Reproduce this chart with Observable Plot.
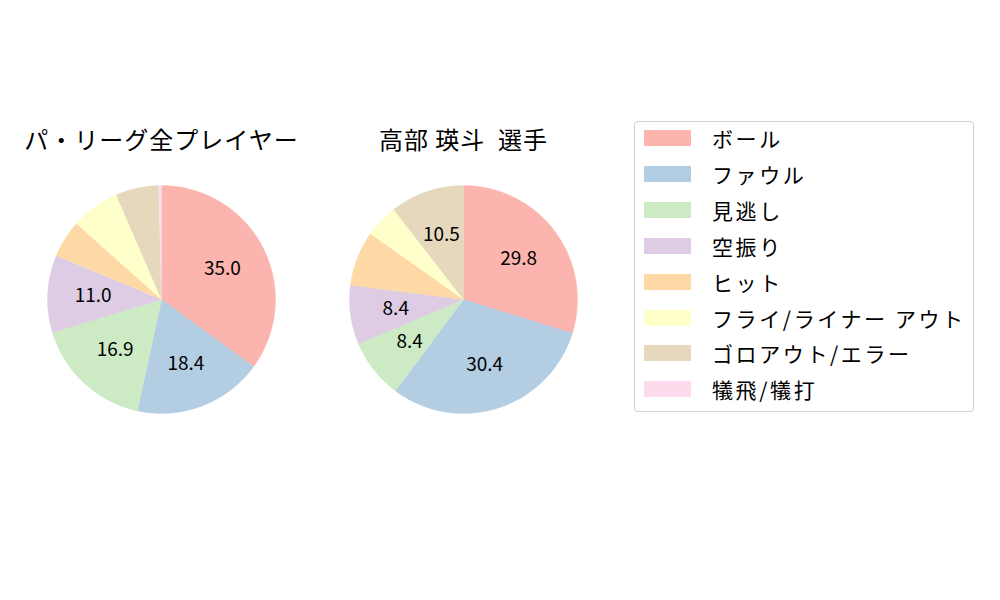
<!DOCTYPE html>
<html><head><meta charset="utf-8">
<script src="https://cdn.jsdelivr.net/npm/d3@7"></script>
<script src="https://cdn.jsdelivr.net/npm/@observablehq/plot@0.6"></script>
<style>
body{margin:0;background:#fff;font-family:"Noto Sans CJK JP",sans-serif;}
#wrap{position:relative;width:1000px;height:600px;}
#chart{position:absolute;left:0;top:0;}
#legend{position:absolute;left:634px;top:121px;width:338px;height:289px;border:1px solid #d0d0d0;border-radius:4px;background:#fff;}
.row{position:absolute;left:0;height:36px;display:flex;align-items:center;}
.sw{width:47px;height:16px;margin-left:9px;margin-right:21px;}
.lb{font-size:21px;color:#000;white-space:nowrap;letter-spacing:2.6px;}
.ttl text{letter-spacing:1px;}
</style></head>
<body><div id="wrap"><div id="chart"></div><div id="legend"></div></div>
<script>
const categories = ["ボール","ファウル","見逃し","空振り","ヒット","フライ/ライナー アウト","ゴロアウト/エラー","犠飛/犠打"];
const colors = ["#fbb4ae","#b3cde3","#ccebc5","#decbe4","#fed9a6","#ffffcc","#e5d8bd","#fddaec"];
const titles = ["パ・リーグ全プレイヤー","高部 瑛斗  選手"];
const leagueValues = [35.0,18.4,16.9,11.0,5.3,6.9,6.1,0.4];
const playerValues = [29.8,30.4,8.4,8.4,7.8,4.7,10.5,0.0];
const series = [leagueValues, playerValues];

// layout
const centers = [161, 463];
const cy = 299, R = 114;

const pie = d3.pie().sort(null).value(d => d.v).startAngle(0).endAngle(2*Math.PI);
const wedges = [], labels = [], titleRows = [];
series.forEach((vals, pi) => {
  const cx = centers[pi];
  titleRows.push({x: cx, y: 141, t: titles[pi]});
  const arcs = pie(vals.map((v,i)=>({v, i})));
  arcs.forEach(a => {
    if (a.endAngle - a.startAngle <= 0) return;
    const pts = [{x: cx, y: cy}];
    const n = Math.max(2, Math.ceil((a.endAngle - a.startAngle) / (Math.PI/360)));
    for (let k = 0; k <= n; k++) {
      const t = a.startAngle + (a.endAngle - a.startAngle) * k / n;
      pts.push({x: cx + R*Math.sin(t), y: cy - R*Math.cos(t)});
    }
    pts.push({x: cx, y: cy});
    wedges.push({pts, color: colors[a.data.i]});
    if (a.data.v >= 8) {
      const m = (a.startAngle + a.endAngle)/2;
      labels.push({x: cx + 0.6*R*Math.sin(m), y: cy - 0.6*R*Math.cos(m), t: a.data.v.toFixed(1)});
    }
  });
});

const marks = wedges.map(w => Plot.line(w.pts, {x:"x", y:"y", fill: w.color, stroke: w.color, strokeWidth: 0.3, curve:"linear"}));
marks.push(Plot.text(labels, {x:"x", y:"y", text:"t", fontSize:19, fill:"#000", fontFamily:"Noto Sans CJK JP"}));
marks.push(Plot.text(titleRows, {x:"x", y:"y", text:"t", fontSize:24, fill:"#000", fontFamily:"Noto Sans CJK JP", className:"ttl"}));

const chart = Plot.plot({
  width: 1000, height: 600,
  marginTop:0, marginRight:0, marginBottom:0, marginLeft:0,
  x: {domain:[0,1000], range:[0,1000], axis:null},
  y: {domain:[0,600], range:[0,600], axis:null},
  style: {background:"transparent", fontFamily:"Noto Sans CJK JP"},
  marks
});
document.getElementById("chart").appendChild(chart);

const lg = document.getElementById("legend");
categories.forEach((c,i) => {
  const row = document.createElement("div");
  row.className = "row";
  row.style.top = (-2 + i*35.9) + "px";
  row.innerHTML = `<div class="sw" style="background:${colors[i]}"></div><div class="lb">${c}</div>`;
  lg.appendChild(row);
});
</script></body></html>
